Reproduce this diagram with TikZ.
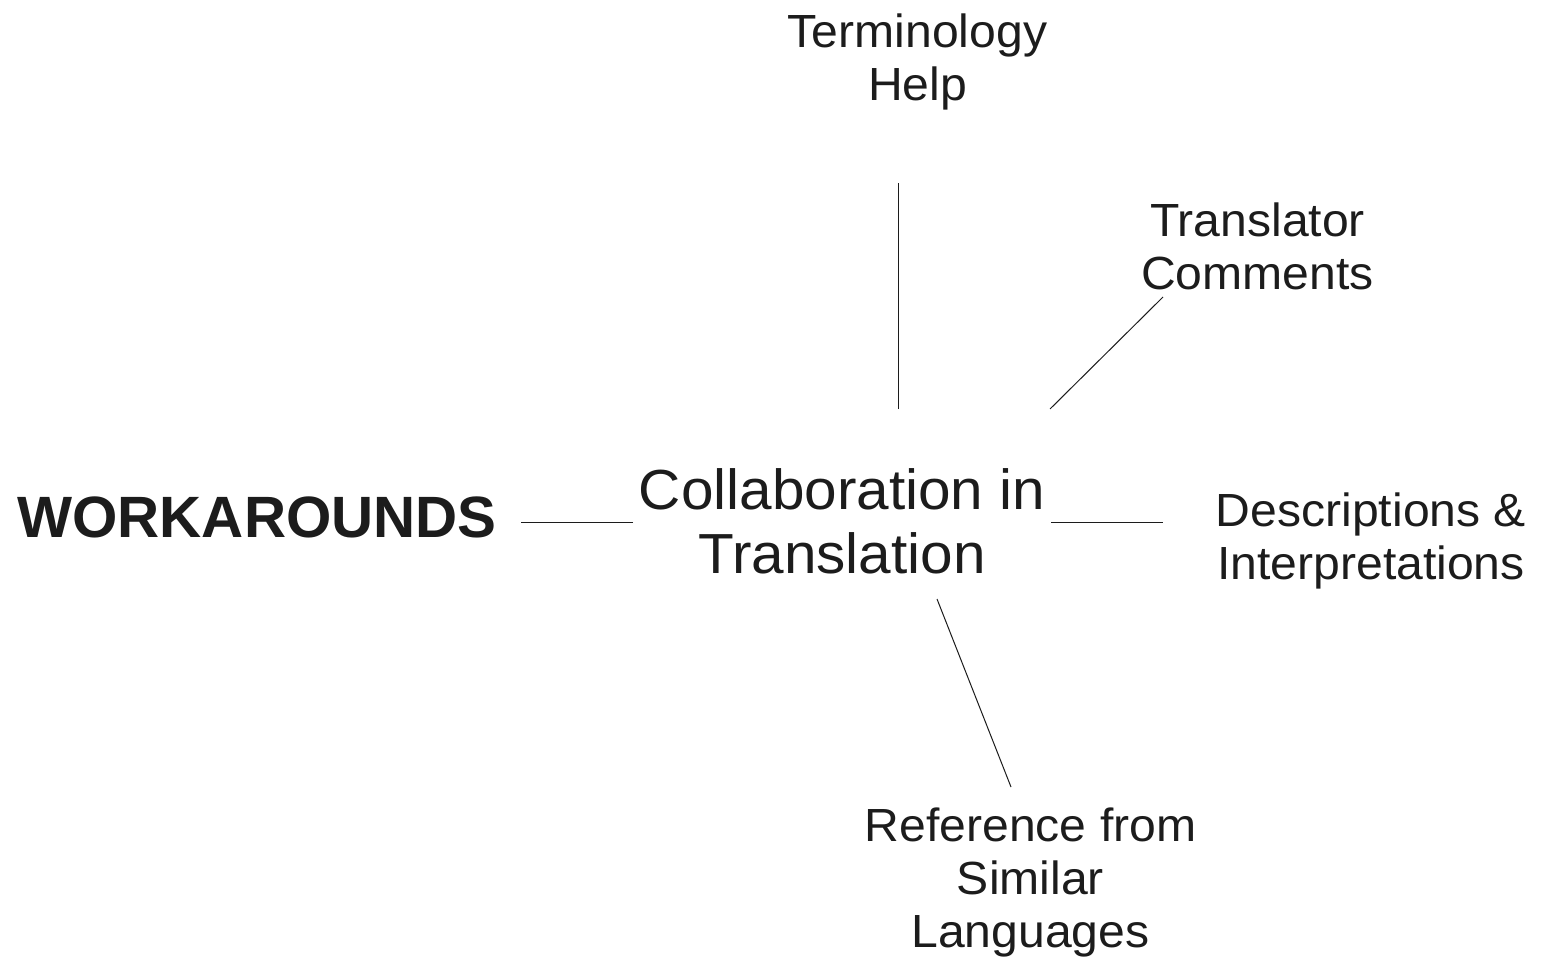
\documentclass[tikz,border=0pt]{standalone}
\usepackage{fontspec}
\setmainfont{Liberation Sans}
\newfontfamily\lblfont[FakeStretch=1.035]{Liberation Sans}
\definecolor{ink}{RGB}{28,28,28}
\begin{document}
\begin{tikzpicture}[x=1pt,y=-1pt,
  label/.style={inner sep=0pt, outer sep=0pt, align=center, text=ink, anchor=north,
    font=\lblfont\fontsize{46.5}{53}\selectfont},
  hub/.style={label, font=\lblfont\fontsize{56.5}{64}\selectfont},
  title/.style={label, font=\fontsize{58.3}{64}\selectfont\bfseries},
  link/.style={draw=ink, line width=1pt}]
\useasboundingbox (0,0) rectangle (1541,958);

% central topic and title
\node[hub] (hub) at (842,469) {Collaboration in\\Translation};
\node[title] (work) at (257,497) {WORKAROUNDS};

% branches
\node[label] (term) at (917.5,14) {Terminology\\Help};
\node[label] (comm) at (1257.5,203) {Translator\\Comments};
\node[label] (desc) at (1371,493) {Descriptions \&\\Interpretations};
\node[label] (refs) at (1030.5,808) {Reference from\\Similar\\Languages};

% connector end points
\coordinate (termA) at (898,409);  \coordinate (termB) at (898,183);
\coordinate (commA) at (1050,409); \coordinate (commB) at (1163,297);
\coordinate (descA) at (1051,522); \coordinate (descB) at (1163,522);
\coordinate (workA) at (633,522);  \coordinate (workB) at (521,522);
\coordinate (refsA) at (937,599);  \coordinate (refsB) at (1011,787);

\draw[link] (termA) -- (termB);
\draw[link] (commA) -- (commB);
\draw[link] (descA) -- (descB);
\draw[link] (workA) -- (workB);
\draw[link] (refsA) -- (refsB);
\end{tikzpicture}
\end{document}
